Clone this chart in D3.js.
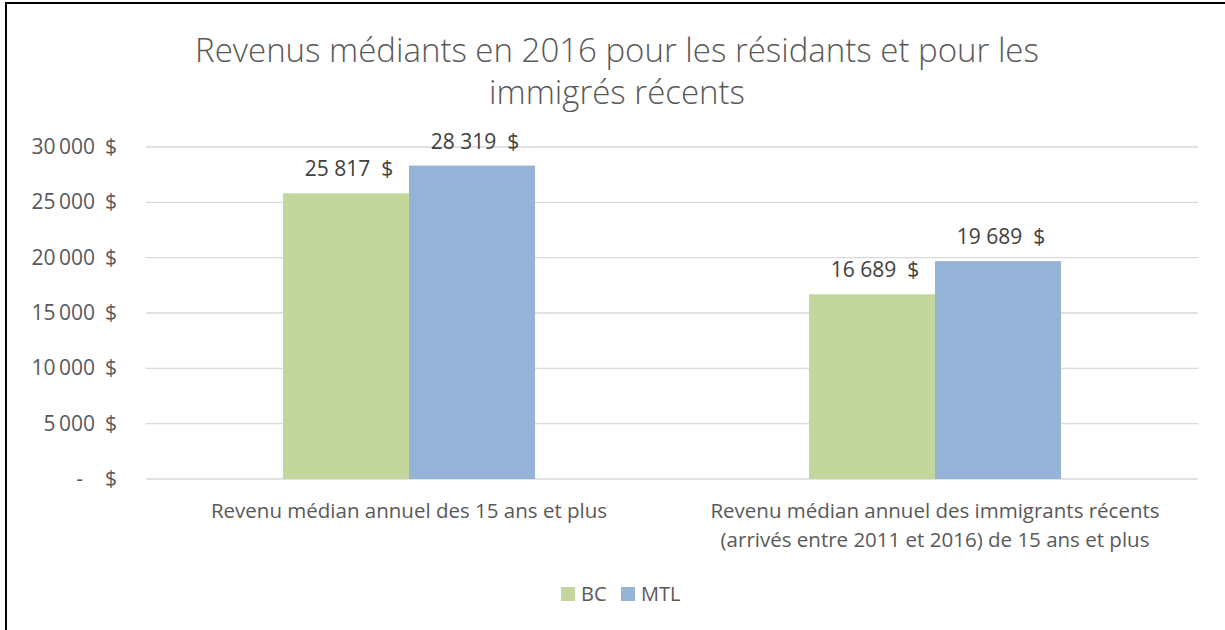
<!DOCTYPE html>
<html>
<head>
<meta charset="utf-8">
<script src="https://cdn.jsdelivr.net/npm/d3@7"></script>
<style>
  body { margin: 0; background: #fff; }
  svg { display: block; font-family: "Open Sans", sans-serif; }
</style>
</head>
<body>
<script>
// chart data
const categories = [
  ["Revenu médian annuel des 15 ans et plus"],
  ["Revenu médian annuel des immigrants récents", "(arrivés entre 2011 et 2016) de 15 ans et plus"]
];
const seriesNames = ["BC", "MTL"];
const bcValues = [25817, 16689];
const mtlValues = [28319, 19689];
const yTicks = [0, 5000, 10000, 15000, 20000, 25000, 30000];
const titleLines = ["Revenus médiants en 2016 pour les résidants et pour les", "immigrés récents"];

const colors = { BC: "#C3D69B", MTL: "#95B3D7" };

const width = 1225, height = 630;
const margin = { top: 147, right: 27, bottom: 151, left: 146 };

const svg = d3.select("body").append("svg")
  .attr("width", width)
  .attr("height", height);

// frame (only top and left edges show)
svg.append("line").attr("x1", 5).attr("x2", width).attr("y1", 3).attr("y2", 3)
  .attr("stroke", "#000").attr("stroke-width", 2);
svg.append("line").attr("x1", 6).attr("x2", 6).attr("y1", 2).attr("y2", height)
  .attr("stroke", "#000").attr("stroke-width", 2);

// title
svg.append("text")
  .attr("x", 617).attr("y", 62)
  .attr("text-anchor", "middle")
  .attr("fill", "#595959")
  .style("font-size", "33px")
  .style("font-weight", 300)
  .selectAll("tspan")
  .data(titleLines)
  .enter().append("tspan")
    .attr("x", 617)
    .attr("dy", (d, i) => i ? 42 : 0)
    .text(d => d);

const plotW = width - margin.left - margin.right;
const plotH = height - margin.top - margin.bottom;

const g = svg.append("g").attr("transform", `translate(${margin.left},${margin.top})`);

const y = d3.scaleLinear().domain([0, 30000]).range([plotH, 0]);

const x0 = d3.scaleBand()
  .domain(d3.range(categories.length))
  .range([0, plotW])
  .paddingInner(0.521)
  .paddingOuter(0.2605);

const x1 = d3.scaleBand()
  .domain(seriesNames)
  .range([0, x0.bandwidth()]);

// gridlines
g.selectAll("line.grid")
  .data(yTicks)
  .enter().append("line")
  .attr("class", "grid")
  .attr("x1", 0).attr("x2", plotW)
  .attr("y1", d => y(d)).attr("y2", d => y(d))
  .attr("stroke", "#D9D9D9")
  .attr("stroke-width", 1.3);

// y tick labels (accounting format: number, then $ in its own column)
const fmt = d => d === 0 ? "-" : d3.format(",")(d).replace(/,/g, "\u2009");
const yl = svg.append("g").attr("fill", "#595959").style("font-size", "21px");
yl.selectAll("text.num")
  .data(yTicks)
  .enter().append("text")
  .attr("x", d => d === 0 ? 83 : 95)
  .attr("y", d => margin.top + y(d) + 7)
  .attr("text-anchor", "end")
  .text(fmt);
yl.selectAll("text.cur")
  .data(yTicks)
  .enter().append("text")
  .attr("x", 105)
  .attr("y", d => margin.top + y(d) + 7)
  .text("$");

// bars
const rows = categories.map((c, i) => ({ i, vals: [
  { key: "BC", value: bcValues[i] },
  { key: "MTL", value: mtlValues[i] }
]}));

const grp = g.selectAll("g.cat")
  .data(rows)
  .enter().append("g")
  .attr("class", "cat")
  .attr("transform", d => `translate(${x0(d.i)},0)`);

grp.selectAll("rect")
  .data(d => d.vals)
  .enter().append("rect")
  .attr("x", d => x1(d.key))
  .attr("width", x1.bandwidth())
  .attr("y", d => y(d.value))
  .attr("height", d => plotH - y(d.value))
  .attr("fill", d => colors[d.key]);

// data labels
grp.selectAll("text")
  .data(d => d.vals)
  .enter().append("text")
  .attr("x", d => x1(d.key) + x1.bandwidth() / 2 + 3)
  .attr("y", d => y(d.value) - 17)
  .attr("text-anchor", "middle")
  .attr("fill", "#404040")
  .style("font-size", "21px")
  .attr("xml:space", "preserve")
  .text(d => d3.format(",")(d.value).replace(/,/g, " ") + "  $");

// category labels
const cl = g.selectAll("text.cat")
  .data(categories)
  .enter().append("text")
  .attr("class", "cat")
  .attr("text-anchor", "middle")
  .attr("fill", "#595959")
  .style("font-size", "20.5px")
  .attr("transform", (d, i) => `translate(${x0(i) + x0.bandwidth() / 2},${plotH + 39})`);
cl.selectAll("tspan")
  .data(d => d)
  .enter().append("tspan")
  .attr("x", 0)
  .attr("dy", (d, i) => i ? 29 : 0)
  .text(d => d);

// legend
const leg = svg.append("g").attr("transform", "translate(561,587)");
const li = leg.selectAll("g")
  .data(seriesNames)
  .enter().append("g")
  .attr("transform", (d, i) => `translate(${i * 60},0)`);
li.append("rect").attr("width", 14).attr("height", 14).attr("fill", d => colors[d]);
li.append("text")
  .attr("x", 20).attr("y", 14)
  .attr("fill", "#595959")
  .style("font-size", "20px")
  .text(d => d);
</script>
</body>
</html>
